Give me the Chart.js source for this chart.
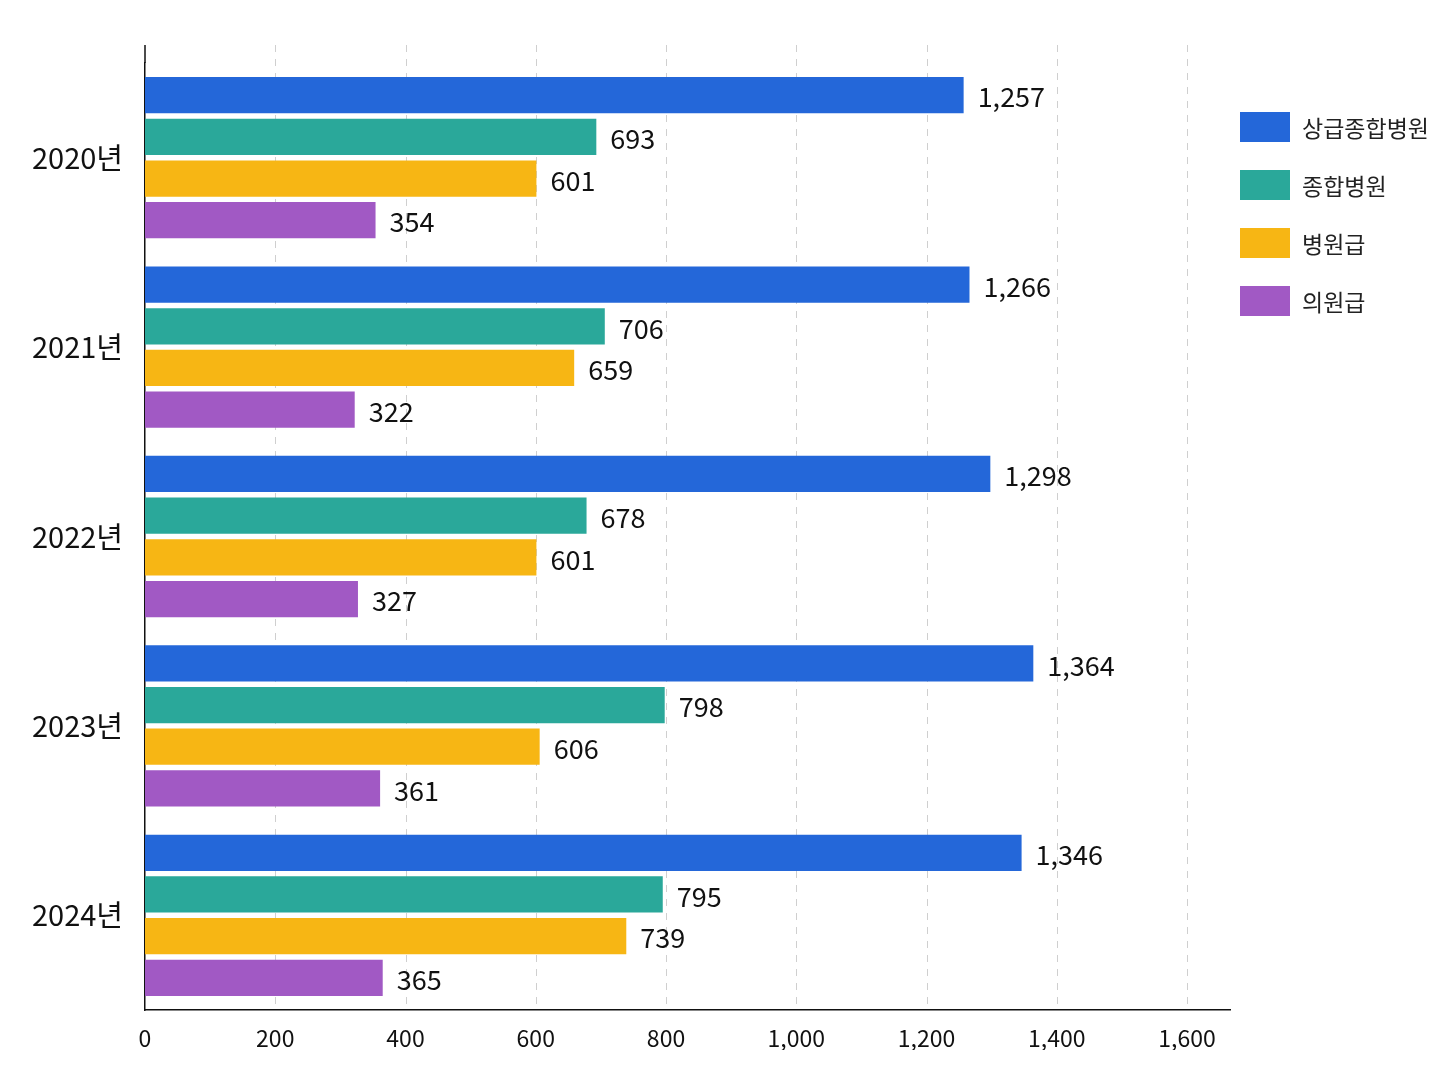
<!DOCTYPE html>
<html><head><meta charset="utf-8">
<script src="https://cdn.jsdelivr.net/npm/chart.js@4"></script>
<style>
body{margin:0;background:#fff;font-family:"Noto Sans CJK KR","Noto Sans",sans-serif}
#wrap{position:relative;width:1448px;height:1086px}
#legend{position:absolute;left:1240px;top:112px}
.li{display:flex;align-items:center;height:30px;margin-bottom:28px;font-size:23px;color:#222}
.sw{width:50px;height:30px;margin-right:12px}
</style></head><body>
<div id="wrap"><canvas id="c" width="1448" height="1086"></canvas><div id="legend"></div></div>
<script>
const categories=["2020년","2021년","2022년","2023년","2024년"];
const seriesNames=["상급종합병원","종합병원","병원급","의원급"];
const tertiary=[1257,1266,1298,1364,1346];
const general=[693,706,678,798,795];
const hospital=[601,659,601,606,739];
const clinic=[354,322,327,361,365];
const xTicks=[0,200,400,600,800,1000,1200,1400,1600];
const colors=["#2467d9","#2aa89a","#f7b614","#a159c4"];
const allData=[tertiary,general,hospital,clinic];
document.getElementById('legend').innerHTML=seriesNames.map((n,i)=>`<div class="li"><div class="sw" style="background:${colors[i]}"></div>${n}</div>`).join('');
const gridPlugin={id:'grd',beforeDatasetsDraw(ch){const ctx=ch.ctx,a=ch.chartArea,x=ch.scales.x;ctx.save();ctx.strokeStyle='#cfcfcf';ctx.lineWidth=1;ctx.setLineDash([7,7]);
xTicks.forEach(v=>{if(v===0)return;const p=Math.round(x.getPixelForValue(v))+0.5;ctx.beginPath();ctx.moveTo(p,45);ctx.lineTo(p,a.bottom);ctx.stroke();});
ctx.setLineDash([]);ctx.strokeStyle='#111';ctx.lineWidth=1.5;ctx.beginPath();ctx.moveTo(a.left,45);ctx.lineTo(a.left,a.top);ctx.stroke();ctx.restore();}};
const labelPlugin={id:'lbl',afterDatasetsDraw(ch){const ctx=ch.ctx;ctx.save();ctx.font='27px "Noto Sans CJK KR"';ctx.fillStyle='#111';ctx.textBaseline='middle';
ch.data.datasets.forEach((ds,i)=>{ch.getDatasetMeta(i).data.forEach((b,j)=>{ctx.fillText(ds.data[j].toLocaleString('en-US'),b.x+14,b.y+2);});});ctx.restore();}};
new Chart(document.getElementById('c'),{type:'bar',
data:{labels:categories,datasets:seriesNames.map((n,i)=>({label:n,data:allData[i],backgroundColor:colors[i],categoryPercentage:0.88,barPercentage:0.87}))},
options:{indexAxis:'y',responsive:false,animation:false,
layout:{padding:{top:63,right:218,bottom:36,left:20}},
plugins:{legend:{display:false},tooltip:{enabled:false}},
scales:{
x:{min:0,max:1666,afterBuildTicks(a){a.ticks=xTicks.map(v=>({value:v}));},
afterFit(a){a.height=40;},
ticks:{color:'#111',font:{size:23,family:'Noto Sans CJK KR'},padding:6,callback:v=>v.toLocaleString('en-US')},
grid:{display:false},
border:{display:true,color:'#111',width:1.5}},
y:{afterFit(a){a.width=125;},ticks:{color:'#111',font:{size:29,family:'Noto Sans CJK KR'},padding:14},
grid:{display:false},border:{display:true,color:'#111',width:1.5}}}},
plugins:[gridPlugin,labelPlugin]});
</script></body></html>
